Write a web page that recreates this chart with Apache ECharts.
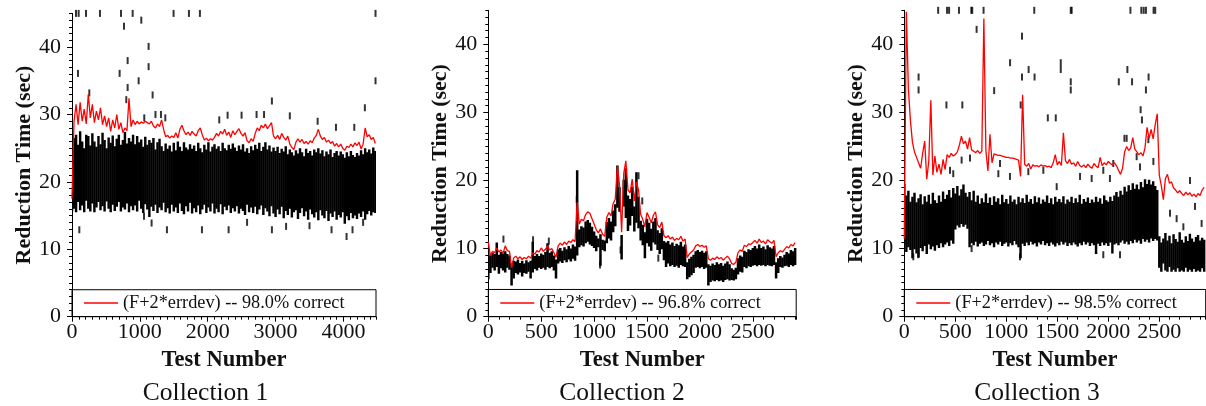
<!DOCTYPE html>
<html lang="en">
<head>
  <meta charset="UTF-8">
  <title>Reduction Time</title>
  <style>
    html, body {
      padding: 0;
      margin: 0;
      background: #fff;
    }
    #myChart {
      width: 1206px;
      height: 406px;
    }
  </style>
</head>
<body>
  <div id="myChart"></div>
  <script src="https://cdn.jsdelivr.net/npm/echarts@6/dist/echarts.min.js"></script>
  <script>
    const myChart = echarts.init(document.getElementById('myChart'));
    const font = 'Liberation Serif';

    const titles = ['Collection 1', 'Collection 2', 'Collection 3'];
    const legendNames = [
      '(F+2*errdev) -- 98.0% correct',
      '(F+2*errdev) -- 96.8% correct',
      '(F+2*errdev) -- 98.5% correct'
    ];
    const xMax = [4480, 2910, 2955];
    const xLabelStep = [1000, 500, 500];
    const yTicks = [0, 10, 20, 30, 40];
    // test-number spacing of the typed samples
    const step = [30, 20, 20];

    // Collection 1 : F+2*errdev (red), black band [low, high], single dashes [x, y]
    const red1 = [
      17.5, 29, 31.5, 28.5, 31.8, 29, 30.8, 28.6, 33, 29.5,
      31.5, 28.8, 30.5, 29.2, 31, 28.5, 29.8, 28.2, 29.5, 27.5,
      29.2, 28, 30, 27.8, 28.8, 27.3, 28, 27.6, 32.4, 28.2,
      29.2, 28.5, 29, 28.6, 28.9, 28.7, 29, 28.8, 28.6, 29,
      28.3, 28, 28.6, 28.2, 29.2, 27.8, 26.7, 26.9, 26.5, 26.8,
      26.6, 27.3, 26.5, 27.8, 28.4, 27.6, 27, 27.4, 26.9, 27.5,
      27.1, 26.8, 27.6, 28, 27, 26.2, 26.5, 26.1, 26.4, 26.2,
      26.6, 27.2, 26.8, 27.5, 27.1, 27.8, 26.9, 27.4, 26.6, 27.6,
      27, 27.5, 27.9, 27.2, 26.8, 27.3, 26.1, 25.8, 26.4, 26,
      27.2, 28, 27.6, 28.4, 28, 28.6, 27.9, 28.3, 28.8, 26.8,
      26.4, 26.9, 26.3, 27.2, 26.6, 26.2, 26.8, 25.6, 25.1, 24.8,
      25.9, 26.4, 25.9, 26.3, 25.7, 26, 25.6, 26.1, 25.8, 26.5,
      26.9, 27.8, 26.8, 26.3, 26.6, 25.9, 26.2, 25.7, 26, 25.3,
      25.7, 25.2, 25.6, 25, 24.7, 25.3, 25.1, 25.6, 25.2, 25.8,
      25.4, 25.9, 24.9, 25.6, 28, 26.7, 27, 26.3, 26.6, 25.7
    ];
    const band1 = [
      [15.5, 22], [16, 26.5], [15.5, 27], [17, 25.5], [15.8, 27.5], [16.5, 26], [15.5, 25], [17.2, 27], [16, 26.8], [15.6, 25.4],
      [16.8, 27.2], [15.5, 26], [16.2, 25.2], [17, 26.8], [15.8, 25.6], [16.4, 27.3], [15.6, 26.2], [17.1, 25], [16, 26.6], [15.5, 25.8],
      [16.6, 26.9], [15.7, 25.3], [16.3, 26.4], [17, 27], [15.6, 25.5], [16.2, 26.2], [15.9, 27.4], [16.8, 25.7], [15.5, 26.5], [16.4, 26],
      [15.8, 27], [16.5, 25.6], [15.6, 26.8], [17.2, 25.9], [16, 26.3], [15.4, 25.2], [16.7, 26.7], [15.9, 25.5], [14.8, 26.2], [16.3, 25.8],
      [15.7, 26.5], [16.6, 24.8], [15.4, 25.9], [16.2, 26.4], [15.8, 25.3], [16.9, 24.6], [15.5, 25.7], [16.1, 24.9], [15.3, 25.4], [16.6, 24.5],
      [15.6, 25.8], [16.2, 24.7], [15.4, 26], [16.8, 25.2], [15.7, 24.6], [15.2, 25.9], [16.4, 25.1], [15.6, 24.8], [16.9, 25.6], [15.3, 24.9],
      [16.1, 25.4], [15.5, 24.6], [16.5, 25.8], [15.2, 25], [15.9, 24.4], [16.6, 25.5], [15.4, 24.8], [16.2, 25.9], [15.6, 24.5], [16.8, 25.2],
      [15.3, 25.6], [16, 24.9], [15.5, 25.3], [16.7, 24.6], [15.2, 25.8], [16.3, 25], [15.8, 24.7], [16.5, 25.5], [15.4, 24.9], [16.1, 25.7],
      [15.6, 25.1], [16.4, 24.6], [15.3, 25.4], [16, 24.8], [15.7, 25.6], [15.1, 24.5], [16.6, 25], [15.5, 24.3], [16.2, 25.3], [15.4, 24.7],
      [16.3, 25.5], [15.2, 24.9], [15.9, 25.8], [16.5, 24.6], [15.1, 25.2], [16.1, 25.9], [15.6, 24.8], [14.9, 25.4], [16.4, 24.5], [15.3, 25.1],
      [14.8, 24.6], [15.9, 25.2], [15.2, 24.3], [16.3, 24.9], [14.6, 24.5], [15.7, 25.3], [15.1, 24.1], [16, 24.8], [14.7, 24.4], [15.5, 23.9],
      [15.8, 24.7], [14.5, 24.2], [15.4, 25], [16.1, 24.4], [14.9, 23.8], [15.6, 24.9], [14.4, 24.3], [15.9, 24.6], [15.2, 23.9], [14.7, 24.8],
      [15.5, 24.4], [14.3, 25], [15.8, 24.2], [15, 24.7], [14.6, 23.8], [15.7, 24.5], [14.2, 24.1], [15.3, 24.8], [14.8, 23.7], [15.6, 24.3],
      [14.4, 24.6], [15.1, 23.9], [14.7, 24.5], [15.5, 24.1], [13.8, 23.6], [14.9, 24.4], [14.3, 23.8], [15.4, 24.6], [14.6, 24], [15, 23.7],
      [14.5, 24.3], [15.3, 23.9], [14.8, 24.7], [15.6, 24.1], [14.4, 25], [15.2, 24.4], [15.7, 24.8], [15, 24.2], [15.5, 25.1], [15.4, 24.6]
    ];
    const dots1 = [
      [59, 45], [98, 45], [206, 45], [412, 45], [722, 45], [894, 45], [1497, 45], [1723, 45], [1885, 45], [4473, 45],
      [766, 43.1], [1021, 44], [1129, 40.1], [820, 38], [1129, 37.1], [88, 36.1], [702, 36.1], [982, 35], [820, 34], [4473, 35],
      [1188, 32.9], [800, 32.2], [2946, 32], [4316, 31], [255, 33.2], [1311, 30], [2293, 29.9], [2499, 29.9], [2170, 29.2], [2720, 30],
      [2830, 30], [3210, 29.8], [3620, 29], [3890, 28.1], [4160, 28.1], [1065, 29.5], [1230, 30], [1375, 29.5],
      [108, 12.9], [1399, 12.9], [1915, 12.9], [2308, 12.9], [2946, 12.9], [3155, 13.4], [3825, 12.9], [4046, 11.9], [4134, 12.9],
      [1173, 13.9], [1061, 14.9], [2580, 14], [3500, 13.5], [4290, 14]
    ];

    // Collection 2
    const red2 = [
      11, 8.9, 9.6, 9.4, 10.1, 9.5, 9.8, 9.3, 10.4, 9.7,
      9.6, 7.2, 8.6, 8.9, 8.5, 8.8, 8.4, 8.7, 8.5, 8.9,
      8.6, 9.4, 9.2, 9.7, 9.5, 10.1, 9.6, 9.9, 10.4, 9.8,
      10, 9.4, 8.7, 10.4, 10.8, 10.5, 11, 10.6, 11.1, 10.9,
      11.3, 11, 16.8, 13.6, 14.3, 14.1, 15, 15.4, 15.2, 14.4,
      13.6, 12.8, 12.3, 12.9, 12.1, 11.8, 14.6, 15.3, 14.8, 16.6,
      17.3, 22.1, 19.4, 12.4, 21, 22.9, 18.6, 18.2, 20.2, 17,
      19.8, 18.6, 15, 14.3, 13.2, 15.3, 14.6, 13.8, 14.9, 15.4,
      13.5, 13.1, 13.9, 11.9, 11.6, 11.9, 11.4, 11.7, 11.2, 11.5,
      11.3, 11.8, 11.1, 11.4, 8.7, 9.2, 9.5, 9.8, 10.4, 10.6,
      10.3, 10.5, 10.2, 10.4, 8.5, 8.3, 8.6, 8.4, 8.8, 8.5,
      8.7, 8.3, 8.6, 8.9, 8.5, 7.8, 7.7, 8, 9.4, 9.8,
      9.6, 10.5, 10.3, 10.7, 10.6, 10.9, 11.2, 10.8, 11.4, 10.9,
      11.1, 10.7, 11.3, 11, 10.8, 11.2, 8.8, 9.4, 9.7, 9.5,
      9.9, 10.3, 10.1, 10.6, 10.4, 10.9
    ];
    const band2 = [
      [5.5, 9.5], [6.4, 9], [7.2, 9.4], [6.8, 9.2], [7.3, 10.9], [6.3, 9.1], [7.1, 9.5], [6.8, 9.3], [6.5, 9.6], [7.2, 9.2],
      [6.9, 9], [4.6, 7.8], [5.6, 8.2], [6.4, 8.1], [6.2, 8.4], [6.5, 7.9], [5.9, 8.2], [6.4, 7.8], [6.3, 8.3], [6.6, 8],
      [5.6, 8.2], [6.5, 11], [7, 8.9], [6.8, 9.2], [7.2, 8.9], [7, 9.3], [7.2, 9.1], [6.9, 9.5], [7.3, 10.8], [7.1, 9.4],
      [7.3, 9.6], [6.8, 9], [5.6, 8.4], [7.8, 9.9], [8.1, 10.1], [7.9, 9.7], [8.3, 10.2], [8, 9.9], [8.4, 10.4], [8.1, 10],
      [8.5, 10.6], [8.2, 10.3], [9, 21.5], [10.2, 12.8], [10.5, 13.3], [10.3, 13.1], [10.8, 14], [11, 14.2], [10.6, 13.8], [10.4, 13.2],
      [10.1, 12.5], [9.6, 11.9], [10.2, 11.5], [7.5, 12.1], [9.8, 11.3], [9.6, 11.2], [10.8, 13.9], [11.5, 14.5], [11.2, 14], [12.4, 15.6],
      [13.3, 16.5], [16, 22.2], [15.4, 19], [8.4, 12], [16.2, 20.1], [14.5, 21.8], [12.6, 17.8], [13.4, 17.3], [14.8, 19.1], [12.5, 16.2],
      [13.8, 21.2], [13, 17.6], [11.2, 14.1], [10.5, 13.5], [8.6, 12.4], [10.8, 14.4], [10.3, 13.8], [9.7, 12.9], [10.9, 14], [10.6, 14.5],
      [9.8, 12.7], [9.2, 12.3], [9.9, 13], [8.3, 11.1], [7.3, 10.9], [7.8, 11.1], [7.4, 10.6], [7.6, 10.9], [7.3, 10.4], [7.5, 10.7],
      [7.2, 10.5], [7.6, 11], [7.4, 10.3], [7.3, 10.6], [5.5, 8], [5.8, 8.5], [6.1, 8.8], [6.4, 9.1], [7.2, 9.6], [7.3, 9.8],
      [7.1, 9.5], [7.3, 9.7], [7, 9.4], [7.2, 9.6], [4.6, 7.7], [5.1, 7.5], [5.3, 7.8], [5.2, 7.6], [5.4, 8], [5.2, 7.7],
      [5.3, 7.9], [5.1, 7.5], [5.4, 7.8], [5.5, 8.1], [5.3, 7.7], [5.4, 7.1], [5.3, 6.9], [5.5, 7.2], [6.2, 8.6], [6.6, 9],
      [6.5, 8.8], [7.3, 9.7], [7.1, 9.5], [7.4, 9.9], [7.3, 9.8], [7.5, 10.1], [7.6, 10.4], [7.4, 10], [7.6, 10.6], [7.5, 10.1],
      [7.6, 10.3], [7.4, 9.9], [7.6, 10.5], [7.5, 10.2], [7.4, 10], [7.6, 10.4], [5.6, 8], [6.4, 8.6], [7.3, 8.9], [7.2, 8.7],
      [7.4, 9.1], [7.5, 9.5], [7.3, 9.3], [7.6, 9.8], [7.4, 9.6], [7.6, 10.1]
    ];
    const dots2 = [
      [143, 11.4], [423, 11.3], [572, 11.1], [1607, 8.6], [1250, 9.8], [1056, 7.6], [836, 17.2], [1420, 20.7], [1455, 17]
    ];

    // Collection 3
    const red3 = [
      11.5, 44.8, 33.5, 28.8, 25.6, 24.2, 23.4, 22.6, 21.8, 24,
      25.8, 20.2, 22.8, 31.8, 20.8, 23.6, 21.2, 22.4, 20.9, 23.1,
      21.6, 23.8, 23.4, 24, 23.6, 23.8, 24.2, 25.2, 26.5, 25.4,
      25.8, 24.6, 26.3, 24.5, 24.3, 24.1, 24.4, 24, 24.3, 43.8,
      24.4, 21.4, 26.8, 22.6, 23.9, 23.8, 23.7, 23.7, 23.6, 23.5,
      23.4, 23.4, 23.3, 23.3, 23.2, 23.1, 23, 20.6, 32.6, 22.4,
      22.1, 22.5, 21.7, 22.3, 22.1, 22.2, 22, 22.3, 22.1, 22.2,
      22, 22.1, 21.9, 22.6, 23.8, 22.3, 22.8, 22.2, 27, 22.9,
      22.5, 23.1, 22.4, 22.6, 22.1, 22.8, 22.2, 22, 22.3, 21.9,
      22.4, 22, 21.8, 22.5, 22.1, 21.9, 23.4, 22.2, 22.6, 22.3,
      22.8, 22.5, 22.3, 22.6, 22.2, 21.5, 20.9, 21.8, 24.2, 25,
      24.4, 24.8, 26.3, 24.6, 24.2, 23.8, 24.1, 23.6, 24.8, 27.8,
      26.2, 27.5, 26.1, 28.2, 29.8, 20.8, 19.2, 17.2, 20.3, 20.9,
      19.6, 19.8, 18.9, 18.6, 18.2, 18.5, 18.1, 17.8, 18.3, 17.9,
      18.2, 17.7, 18, 17.6, 18.1, 17.8, 18.6, 19
    ];
    const band3 = [
      [10.8, 19.5], [9.5, 17.8], [10.2, 18.5], [9.8, 16.9], [8.6, 17.6], [9.9, 18.2], [9.3, 16.8], [8.7, 17.4], [10.1, 18], [9.6, 16.5],
      [10.4, 17.7], [9.2, 16.9], [10.6, 17.9], [9.9, 16.6], [10.3, 18.2], [9.7, 17.1], [10.5, 16.7], [10.1, 17.8], [10.8, 16.9], [10.2, 18.4],
      [10.6, 17.3], [10.9, 17.9], [10.4, 18.6], [11.2, 17.5], [10.7, 18.9], [12.8, 18.1], [13.4, 19.2], [13.1, 17.8], [13.6, 18.7], [13.2, 19.4],
      [13.5, 18.2], [12.9, 17.6], [10.2, 18.3], [10.8, 17.1], [10.5, 18.5], [11, 16.9], [10.3, 17.8], [10.7, 16.6], [10.9, 17.4], [10.4, 16.8],
      [10.6, 18.1], [11.1, 16.7], [10.5, 17.5], [10.8, 16.4], [10.2, 17.7], [10.9, 16.9], [10.6, 17.4], [11, 16.5], [10.4, 17.9], [10.7, 16.8],
      [10.9, 17.3], [10.3, 16.6], [10.8, 17.8], [10.5, 16.9], [11.1, 17.2], [10.6, 16.5], [10.2, 17.6], [8.6, 16.8], [10.7, 17.4], [10.4, 16.7],
      [10.9, 17.9], [10.5, 16.9], [11, 17.3], [10.6, 16.6], [10.8, 17.7], [10.3, 16.8], [10.9, 17.5], [10.6, 16.6], [11.1, 17.2], [10.5, 16.9],
      [10.8, 17.8], [10.4, 16.7], [10.9, 17.4], [10.6, 16.5], [10.3, 17.6], [10.8, 16.9], [10.5, 17.3], [11, 16.8], [10.6, 17.7], [10.9, 16.6],
      [10.4, 17.2], [10.8, 16.9], [10.5, 17.6], [10.9, 16.7], [10.6, 17.4], [10.3, 16.8], [10.8, 17.9], [10.5, 16.6], [11, 17.3], [10.6, 16.9],
      [10.9, 17.5], [10.4, 16.7], [10.8, 17.2], [10.5, 16.8], [9.2, 17.6], [10.7, 16.9], [10.4, 17.4], [10.9, 16.6], [10.5, 17.8], [10.8, 17.1],
      [10.4, 16.9], [10.9, 17.6], [9.3, 17], [10.6, 17.8], [10.8, 18.3], [10.5, 17.6], [10.9, 18.5], [11.2, 17.9], [10.7, 19.1], [11, 18.4],
      [10.6, 19.3], [11.1, 18.6], [10.8, 19.6], [11.3, 18.8], [10.9, 19.4], [11.2, 18.7], [10.7, 19.8], [11.4, 19], [11, 20.2], [11.3, 19.5],
      [10.9, 20.1], [11.5, 19.4], [11.1, 19.9], [11.4, 19.2], [11.2, 18.6], [7.2, 11.8], [6.6, 10.9], [7.8, 11.5], [6.8, 12.3], [6.6, 11.2],
      [7.3, 11.9], [6.6, 10.8], [6.9, 12.1], [6.6, 11.4], [7.1, 11], [6.6, 12.4], [6.8, 11.3], [6.6, 10.9], [7.2, 11.8], [6.6, 11.1],
      [6.9, 12.2], [6.6, 11.5], [7, 11], [6.6, 11.7], [6.8, 12], [6.6, 11.2], [7.1, 11.6], [6.6, 11.3]
    ];
    const dots3 = [
      [332, 45], [419, 45], [439, 45], [536, 45], [657, 45], [666, 45], [777, 45], [1274, 45], [1632, 45], [1641, 45],
      [2217, 45], [2324, 45], [2347, 45], [2369, 45], [2444, 45], [2460, 45],
      [709, 42.2], [1154, 41.2], [1037, 37.3], [1534, 37.3], [1534, 36.3], [2187, 36.3], [1219, 36.3], [140, 35.2], [140, 33.3], [1277, 35.2],
      [1154, 35.2], [2395, 35.2], [1632, 34.5], [1632, 33.3], [2103, 34.5], [2233, 34.5], [2369, 33.3], [881, 33.2], [413, 31.1], [569, 31.1],
      [1141, 31.1], [2317, 30.4], [1407, 29.2], [1485, 29.2], [2330, 28.9], [2158, 26.2],
      [448, 21.5], [480, 21], [562, 23], [644, 23.3], [922, 21], [938, 22.5], [1036, 20.6], [1216, 21.3], [1363, 21.5], [1494, 19.1],
      [1723, 20.6], [1837, 20.3], [1951, 21.5], [2016, 20.3], [2049, 22.5], [2180, 26.2], [2278, 23.5], [2393, 26], [2442, 22.8], [2311, 22],
      [2670, 14.4], [2801, 20], [2850, 16.2], [2915, 13.7], [2605, 15.2], [2736, 13.2],
      [88, 8.8], [137, 9.1], [1134, 8.8], [1951, 9.1], [2115, 9.1], [660, 10]
    ];

    const reds = [red1, red2, red3];
    const bands = [band1, band2, band3];
    const dots = [dots1, dots2, dots3];

    const grids = [
      { left: 72, top: 13.4, width: 304, height: 303.3 },
      { left: 488.3, top: 10.3, width: 307.9, height: 306.4 },
      { left: 904.3, top: 10.3, width: 301.4, height: 306.4 }
    ];

    const labelStyle = { fontFamily: font, fontSize: 22, color: '#111' };
    const nameStyle = { fontFamily: font, fontWeight: 'bold', color: '#111' };

    const xAxes = [];
    const yAxes = [];
    const series = [];
    const legends = [];

    grids.forEach((g, i) => {
      const xTicks = [];
      for (let v = 0; v <= xMax[i]; v += xLabelStep[i]) xTicks.push(v);
      // main axes: line, long ticks and labels
      xAxes.push({
        gridIndex: i, type: 'value', position: 'bottom', min: 0, max: xMax[i], interval: xLabelStep[i],
        name: 'Test Number', nameLocation: 'middle', nameGap: 32,
        nameTextStyle: Object.assign({ fontSize: 22.5 }, nameStyle),
        axisLine: { lineStyle: { color: '#000', width: 1 } },
        axisTick: { length: 5, customValues: xTicks, lineStyle: { color: '#000' } },
        axisLabel: { margin: 5, customValues: xTicks, formatter: v => (v % xLabelStep[i] === 0 ? v : ''), ...labelStyle },
        splitLine: { show: false }
      });
      // second axis only for the small ticks every 100
      xAxes.push({
        gridIndex: i, type: 'value', position: 'bottom', min: 0, max: xMax[i], interval: 100,
        axisLine: { show: false },
        axisTick: { length: 3, lineStyle: { color: '#000' } },
        axisLabel: { show: false },
        splitLine: { show: false }
      });
      yAxes.push({
        gridIndex: i, type: 'value', position: 'left', min: 0, max: 45, interval: 10,
        name: 'Reduction Time (sec)', nameLocation: 'middle', nameGap: 37,
        nameTextStyle: Object.assign({ fontSize: 22 }, nameStyle),
        axisLine: { lineStyle: { color: '#000', width: 1 } },
        axisTick: { length: 5, customValues: yTicks, lineStyle: { color: '#000' } },
        axisLabel: { margin: 11, customValues: yTicks, formatter: v => (v % 10 === 0 ? v : ''), ...labelStyle },
        splitLine: { show: false }
      });
      yAxes.push({
        gridIndex: i, type: 'value', position: 'left', min: 0, max: 45, interval: 1,
        axisLine: { show: false },
        axisTick: { length: 3, lineStyle: { color: '#000' } },
        axisLabel: { show: false },
        splitLine: { show: false }
      });

      const st = step[i];
      series.push({
        type: 'custom',
        xAxisIndex: 2 * i, yAxisIndex: 2 * i,
        silent: true, z: 2, clip: true,
        encode: { x: 0, y: [1, 2] },
        data: bands[i].map((b, k) => [k * st, b[0], b[1]]),
        renderItem(params, api) {
          const top = api.coord([api.value(0), api.value(2)]);
          const bottom = api.coord([api.value(0), api.value(1)]);
          const w = api.size([st, 0])[0] + 0.4;
          return {
            type: 'rect',
            shape: { x: top[0] - w / 2, y: top[1], width: w, height: bottom[1] - top[1] },
            style: { fill: '#000' }
          };
        }
      });
      series.push({
        type: 'scatter',
        xAxisIndex: 2 * i, yAxisIndex: 2 * i,
        silent: true, z: 3, clip: false,
        symbol: 'rect', symbolSize: [2, 7],
        itemStyle: { color: '#000' },
        data: dots[i]
      });
      series.push({
        type: 'line',
        name: legendNames[i],
        xAxisIndex: 2 * i, yAxisIndex: 2 * i,
        silent: true, z: 4,
        symbol: 'none',
        lineStyle: { color: '#ff0000', width: 1.3 },
        itemStyle: { color: '#ff0000' },
        data: reds[i].map((v, k) => [k * st, v]),
        // legend box along the bottom of the plot
        markArea: {
          silent: true,
          label: { show: false },
          itemStyle: { color: 'rgba(0,0,0,0)', borderColor: '#000', borderWidth: 1 },
          data: [[{ coord: [0, 0] }, { coord: [xMax[i], 4] }]]
        }
      });
      legends.push({
        data: [legendNames[i]],
        left: g.left + 12, top: 294,
        padding: 0,
        icon: 'rect', itemWidth: 34, itemHeight: 1.5,
        selectedMode: false,
        textStyle: { fontFamily: font, fontSize: 18.3, color: '#111' }
      });
    });

    const titleX = [205.5, 622, 1037];
    const option = {
      backgroundColor: '#fff',
      animation: false,
      grid: grids,
      xAxis: xAxes,
      yAxis: yAxes,
      legend: legends,
      series: series,
      graphic: titles.map((t, i) => ({
        type: 'text',
        x: titleX[i], y: 393,
        style: {
          text: t, fontFamily: font, fontSize: 25.5, fill: '#111',
          textAlign: 'center', textVerticalAlign: 'middle'
        }
      }))
    };
    myChart.setOption(option);
  </script>
</body>
</html>
